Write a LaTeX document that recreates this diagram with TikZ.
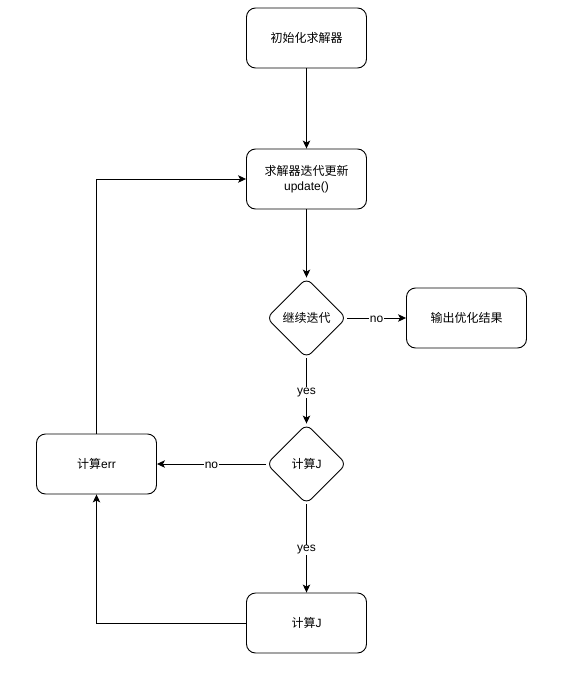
\documentclass[tikz,border=0pt]{standalone}
\usepackage{fontspec}
\setmainfont{Liberation Sans}
\newfontfamily\cjk{Noto Sans CJK SC}
\usetikzlibrary{shapes.geometric,arrows.meta}
\begin{document}
\begin{tikzpicture}[x=1pt,y=-1pt,
  font=\cjk\fontsize{12}{15}\selectfont,
  procbox/.style={draw,line width=0.9pt,rounded corners=9pt,minimum width=120pt,minimum height=60pt,inner sep=2pt,align=center},
  decbox/.style={draw,line width=0.9pt,diamond,aspect=1,minimum width=80pt,minimum height=80pt,inner sep=0pt,rounded corners=7pt},
  conn/.style={line width=0.9pt,-{Stealth[length=8pt,width=7.5pt,inset=2pt]}},
  lbl/.style={fill=white,inner sep=1pt,font=\fontsize{12}{14}\selectfont,yshift=-1.5pt}]
\useasboundingbox (0,0) rectangle (576,688);
\node[procbox] (init) at (306.5,38) {初始化求解器};
\node[procbox] (upd) at (306.5,179) {求解器迭代更新\\{\rmfamily update()}};
\node[decbox] (cont) at (306.5,318) {继续迭代};
\node[procbox] (out) at (466.5,318) {输出优化结果};
\node[decbox] (cj) at (306.5,464) {计算{\rmfamily J}};
\node[procbox] (err) at (96.5,464) {计算{\rmfamily err}};
\node[procbox] (cj2) at (306.5,623) {计算{\rmfamily J}};
\draw[conn] (init) -- (upd);
\draw[conn] (upd) -- (cont);
\draw[conn] (cont) -- node[lbl]{no} (out);
\draw[conn] (cont) -- node[lbl]{yes} (cj);
\draw[conn] (cj) -- node[lbl]{no} (err);
\draw[conn] (cj) -- node[lbl]{yes} (cj2);
\draw[conn] (cj2.west) -| (err.south);
\draw[conn] (err.north) |- (upd.west);
\end{tikzpicture}
\end{document}
